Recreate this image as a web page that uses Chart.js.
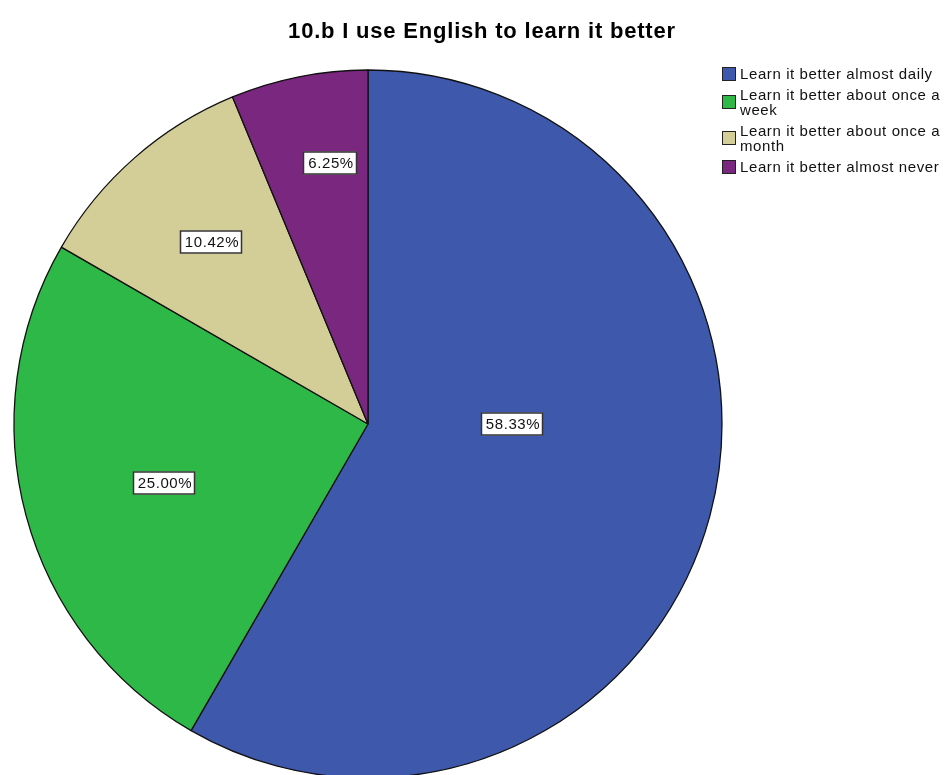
<!DOCTYPE html>
<html>
<head>
<meta charset="utf-8">
<title>10.b I use English to learn it better</title>
<script src="https://cdn.jsdelivr.net/npm/chart.js@4.4.1/dist/chart.umd.min.js"></script>
<style>
    html, body { margin: 0; padding: 0; background: #fff; }
    #wrap { width: 946px; height: 775px; }
</style>
</head>
<body>
<div id="wrap"><canvas id="pieChart" width="946" height="775"></canvas></div>
<script>
// ===== DATA =====
const chartTitle = '10.b I use English to learn it better';
const categories = [
    'Learn it better almost daily',
    'Learn it better about once a week',
    'Learn it better about once a month',
    'Learn it better almost never',
];
const percents = [58.33, 25.00, 10.42, 6.25];
const sliceColors = ['#3e58ac', '#2eb848', '#d3ce97', '#7a287f'];

// value boxes: share of the radius and a small angle nudge (deg) from the slice middle
const labelSpots = [
    { r: 0.407, da: -15 },
    { r: 0.599, da: -1.2 },
    { r: 0.680, da: 0.5 },
    { r: 0.746, da: 3 },
];

const FONT = 'Arial, "Liberation Sans", sans-serif';

// ===== PLUGINS =====
const titlePlugin = {
    id: 'spssTitle',
    afterDraw(chart) {
        const ctx = chart.ctx;
        ctx.save();
        ctx.font = 'bold 22px ' + FONT;
        ctx.letterSpacing = '0.8px';
        ctx.fillStyle = '#000';
        ctx.textAlign = 'center';
        ctx.textBaseline = 'alphabetic';
        ctx.fillText(chartTitle, 482, 38);
        ctx.restore();
    }
};

function wrapText(ctx, text, maxWidth) {
    const words = text.split(' ');
    const lines = [];
    let line = '';
    words.forEach(w => {
        const test = line ? line + ' ' + w : w;
        if (line && ctx.measureText(test).width > maxWidth) {
            lines.push(line);
            line = w;
        } else {
            line = test;
        }
    });
    if (line) lines.push(line);
    return lines;
}

const legendPlugin = {
    id: 'sideLegend',
    afterDraw(chart) {
        const ctx = chart.ctx;
        const boxX = 722, textX = 740, box = 14, lineH = 15, gap = 6;
        let top = 66;
        ctx.save();
        ctx.font = '15px ' + FONT;
        ctx.letterSpacing = '0.6px';
        ctx.textBaseline = 'middle';
        ctx.textAlign = 'left';
        categories.forEach((name, i) => {
            const lines = wrapText(ctx, name, chart.width - textX - 2);
            const h = lines.length * lineH;
            const cy = top + h / 2;
            const by = Math.round(cy - box / 2);
            ctx.fillStyle = sliceColors[i];
            ctx.fillRect(boxX, by, box, box);
            ctx.strokeStyle = '#222';
            ctx.lineWidth = 1;
            ctx.strokeRect(boxX + 0.5, by + 0.5, box - 1, box - 1);
            ctx.fillStyle = '#111';
            lines.forEach((ln, j) => ctx.fillText(ln, textX, top + lineH * j + lineH / 2 + 1));
            top += h + gap;
        });
        ctx.restore();
    }
};

const valueBoxPlugin = {
    id: 'valueBoxes',
    afterDatasetsDraw(chart) {
        const ctx = chart.ctx;
        const arcs = chart.getDatasetMeta(0).data;
        ctx.save();
        ctx.font = '15px ' + FONT;
        ctx.letterSpacing = '0.6px';
        ctx.textBaseline = 'middle';
        ctx.textAlign = 'center';
        arcs.forEach((arc, i) => {
            const spot = labelSpots[i];
            const mid = (arc.startAngle + arc.endAngle) / 2 + spot.da * Math.PI / 180;
            const cx = Math.round(arc.x + Math.cos(mid) * arc.outerRadius * spot.r);
            const cy = Math.round(arc.y + Math.sin(mid) * arc.outerRadius * spot.r);
            const text = percents[i].toFixed(2) + '%';
            const w = Math.round(ctx.measureText(text).width) + 8;
            const h = 23;
            ctx.fillStyle = '#fff';
            ctx.fillRect(cx - w / 2, cy - h / 2, w, h);
            ctx.strokeStyle = '#333';
            ctx.lineWidth = 1.5;
            ctx.strokeRect(cx - w / 2 + 0.5, cy - h / 2 + 0.5, w - 1, h - 1);
            ctx.fillStyle = '#111';
            ctx.fillText(text, cx + 1, cy + 1);
        });
        ctx.restore();
    }
};

// ===== CHART =====
new Chart(document.getElementById('pieChart').getContext('2d'), {
    type: 'pie',
    data: {
        labels: categories,
        datasets: [{
            data: percents,
            backgroundColor: sliceColors,
            borderColor: '#111',
            borderWidth: 1.3,
            hoverOffset: 0,
            radius: 354,
        }]
    },
    options: {
        responsive: false,
        animation: false,
        layout: { padding: { left: 14, right: 224, top: 73, bottom: 0 } },
        plugins: {
            legend: { display: false },
            title: { display: false },
            tooltip: { enabled: false },
        }
    },
    plugins: [valueBoxPlugin, titlePlugin, legendPlugin]
});
</script>
</body>
</html>
